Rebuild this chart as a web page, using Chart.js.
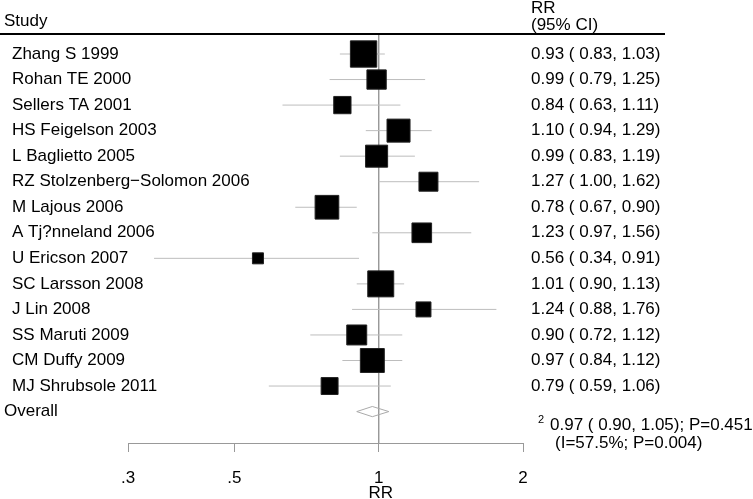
<!DOCTYPE html>
<html>
<head>
<meta charset="utf-8">
<script src="https://cdn.jsdelivr.net/npm/chart.js@4.4.0/dist/chart.umd.min.js"></script>
<style>
  html, body { margin: 0; padding: 0; background: #fff; }
</style>
</head>
<body>
<canvas id="forest" width="753" height="499"></canvas>
<script>
// study rows, top to bottom
var studies = ['Zhang S 1999', 'Rohan TE 2000', 'Sellers TA 2001', 'HS Feigelson 2003',
  'L Baglietto 2005', 'RZ Stolzenberg\u2212Solomon 2006', 'M Lajous 2006', 'A Tj?nneland 2006',
  'U Ericson 2007', 'SC Larsson 2008', 'J Lin 2008', 'SS Maruti 2009', 'CM Duffy 2009',
  'MJ Shrubsole 2011']
var rr = [0.93, 0.99, 0.84, 1.10, 0.99, 1.27, 0.78, 1.23, 0.56, 1.01, 1.24, 0.90, 0.97, 0.79]
var lower = [0.83, 0.79, 0.63, 0.94, 0.83, 1.00, 0.67, 0.97, 0.34, 0.90, 0.88, 0.72, 0.84, 0.59]
var upper = [1.03, 1.25, 1.11, 1.29, 1.19, 1.62, 0.90, 1.56, 0.91, 1.13, 1.76, 1.12, 1.12, 1.06]
// study weights (%)
var weights = [11.4, 6.3, 5.1, 8.8, 8.1, 6.1, 9.3, 6.5, 2.2, 11.1, 3.9, 6.7, 9.5, 4.9]
// pooled estimate, lower, upper
var overall = [0.97, 0.90, 1.05]
var overallText = ['0.97 ( 0.90, 1.05); P=0.451', '(I=57.5%; P=0.004)']
var tickValues = [0.3, 0.5, 1, 2]
var tickLabels = ['.3', '.5', '1', '2']
var axisTitle = 'RR'

var FONT = '"Liberation Sans", Arial, Helvetica, sans-serif'
var yMin = -0.744
var yMax = 15.23
var overallRow = studies.length
var colX = 531

var datasets = []

// squares
datasets.push({
  data: rr.map(function (v, i) { return { x: v, y: i } }),
  pointStyle: 'rect',
  pointRadius: weights.map(function (w) { return (8.1 * Math.sqrt(w) - 1) / Math.SQRT2 }),
  backgroundColor: '#000',
  borderColor: '#222',
  borderWidth: 1,
  showLine: false,
  order: 0
})

// confidence interval lines
for (var i = 0; i < studies.length; i++) {
  datasets.push({
    data: [{ x: lower[i], y: i }, { x: upper[i], y: i }],
    showLine: true,
    borderColor: '#bdbdbd',
    borderWidth: 1,
    pointRadius: 0,
    order: 2
  })
}

// overall diamond
var dh = 0.2
datasets.push({
  data: [
    { x: overall[1], y: overallRow },
    { x: overall[0], y: overallRow - dh },
    { x: overall[2], y: overallRow },
    { x: overall[0], y: overallRow + dh },
    { x: overall[1], y: overallRow }
  ],
  showLine: true,
  borderColor: '#aaa',
  borderWidth: 1,
  pointRadius: 0,
  tension: 0,
  order: 1
})

// line of no effect
datasets.push({
  data: [{ x: 1, y: yMin }, { x: 1, y: yMax }],
  showLine: true,
  borderColor: '#999',
  borderWidth: 1,
  pointRadius: 0,
  order: 3
})

var textPlugin = {
  id: 'forestText',
  afterDraw: function (chart) {
    var ctx = chart.ctx
    var xs = chart.scales.x
    var ys = chart.scales.y
    ctx.save()
    ctx.fillStyle = '#000'
    ctx.textBaseline = 'middle'
    ctx.textAlign = 'left'
    ctx.font = '17px ' + FONT

    // header
    ctx.fillText('Study', 4, 21)
    ctx.fillText('RR', colX, 8)
    ctx.fillText('(95% CI)', colX, 25)
    ctx.fillRect(0, 33, 665, 2)

    for (var i = 0; i < studies.length; i++) {
      var y = ys.getPixelForValue(i)
      ctx.fillText(studies[i], 12, y)
      ctx.fillText(rr[i].toFixed(2) + ' ( ' + lower[i].toFixed(2) + ', ' + upper[i].toFixed(2) + ')', colX, y)
    }

    var oy = ys.getPixelForValue(overallRow)
    ctx.fillText('Overall', 4, oy)
    ctx.fillText(overallText[0], 550, oy + 14)
    ctx.fillText(overallText[1], 555, oy + 32)

    // axis title, centred under the null line
    ctx.textAlign = 'center'
    ctx.fillText(axisTitle, xs.getPixelForValue(1) + 2, 493)

    ctx.textAlign = 'left'
    ctx.font = '11px ' + FONT
    ctx.fillText('2', 538, oy + 8)
    ctx.restore()
  }
}

var ctx = document.getElementById('forest').getContext('2d')
var forest = new Chart(ctx, {
  type: 'scatter',
  data: { datasets: datasets },
  plugins: [textPlugin],
  options: {
    responsive: false,
    animation: false,
    devicePixelRatio: 1,
    layout: { padding: { left: 128, right: 230, top: 35, bottom: 0 } },
    plugins: { legend: { display: false }, tooltip: { enabled: false } },
    scales: {
      x: {
        type: 'logarithmic',
        min: 0.3,
        max: 2,
        afterBuildTicks: function (s) {
          s.ticks = tickValues.map(function (v) { return { value: v } })
        },
        afterFit: function (s) { s.height = 56 },
        ticks: {
          autoSkip: false,
          maxRotation: 0,
          padding: 17.5,
          color: '#000',
          font: { family: FONT, size: 17, lineHeight: 1 },
          callback: function (v) { return tickLabels[tickValues.indexOf(v)] }
        },
        grid: {
          display: true,
          drawOnChartArea: false,
          drawTicks: true,
          tickLength: 9,
          color: '#999',
          lineWidth: 1
        },
        border: { display: true, color: '#999', width: 1 },
        title: { display: false }
      },
      y: {
        type: 'linear',
        display: false,
        reverse: true,
        min: yMin,
        max: yMax
      }
    }
  }
})
</script>
</body>
</html>
